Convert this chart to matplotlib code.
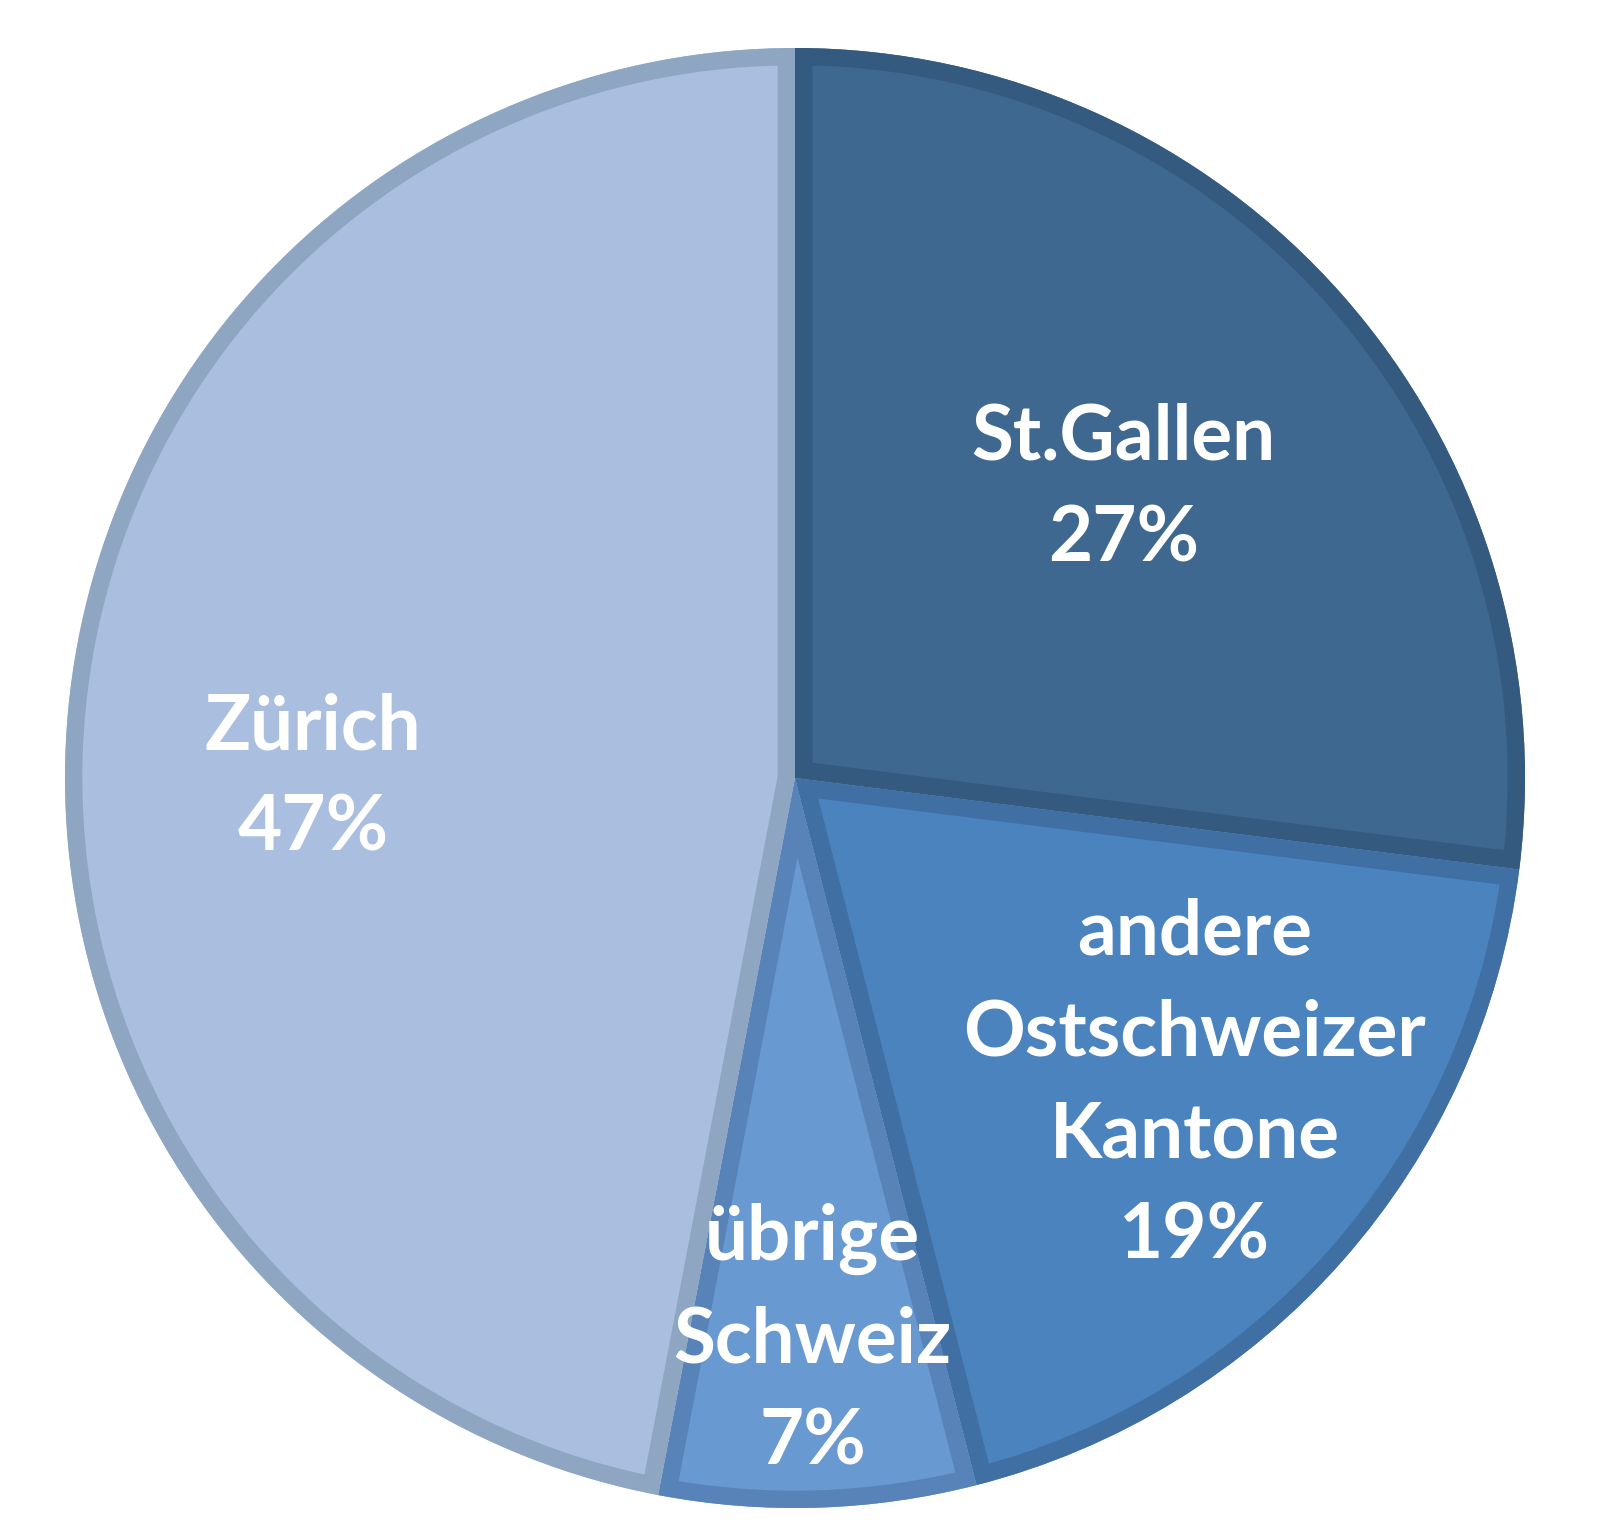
import matplotlib.pyplot as plt
from matplotlib.patches import Wedge
import numpy as np

labels = ["St.Gallen", "andere\nOstschweizer\nKantone", "übrige\nSchweiz", "Zürich"]
shares = [27, 19, 7, 47]
fill_colors = ["#3F6890", "#4A83BE", "#6899D0", "#AABFDF"]
edge_colors = ["#355A80", "#3F6FA3", "#5883B8", "#8FA6C3"]

# label placement: distance (fraction of radius) and angle override (deg)
label_dist = [0.6, 0.69, 0.77, 0.66]
label_ang = [None, -37.5, None, 180]

W, H = 1603, 1525
cx, cy, R = 795, 778, 730

fig = plt.figure(figsize=(W / 100, H / 100), dpi=100)
ax = fig.add_axes([0, 0, 1, 1])

wedges, _ = ax.pie(shares, startangle=90, counterclock=False, colors=fill_colors,
                   radius=1, wedgeprops=dict(linewidth=0))

# inner stroke: draw edge on a copy, clipped to the wedge
for w, ec in zip(wedges, edge_colors):
    e = Wedge(w.center, w.r, w.theta1, w.theta2, facecolor="none",
              edgecolor=ec, linewidth=25, joinstyle="miter")
    ax.add_patch(e)
    e.set_clip_path(w)

for w, lab, pct, d, a in zip(wedges, labels, shares, label_dist, label_ang):
    if a is None:
        a = (w.theta1 + w.theta2) / 2
    ang = np.deg2rad(a)
    ax.text(d * np.cos(ang), d * np.sin(ang), f"{lab}\n{pct}%",
            ha="center", va="center", color="white", fontsize=55,
            fontweight="bold", family="Lato", linespacing=1.55)

ax.set_xlim(-cx / R, (W - cx) / R)
ax.set_ylim(-(H - cy) / R, cy / R)
ax.set_aspect("auto")
ax.axis("off")

plt.savefig("out.png", dpi=100)
